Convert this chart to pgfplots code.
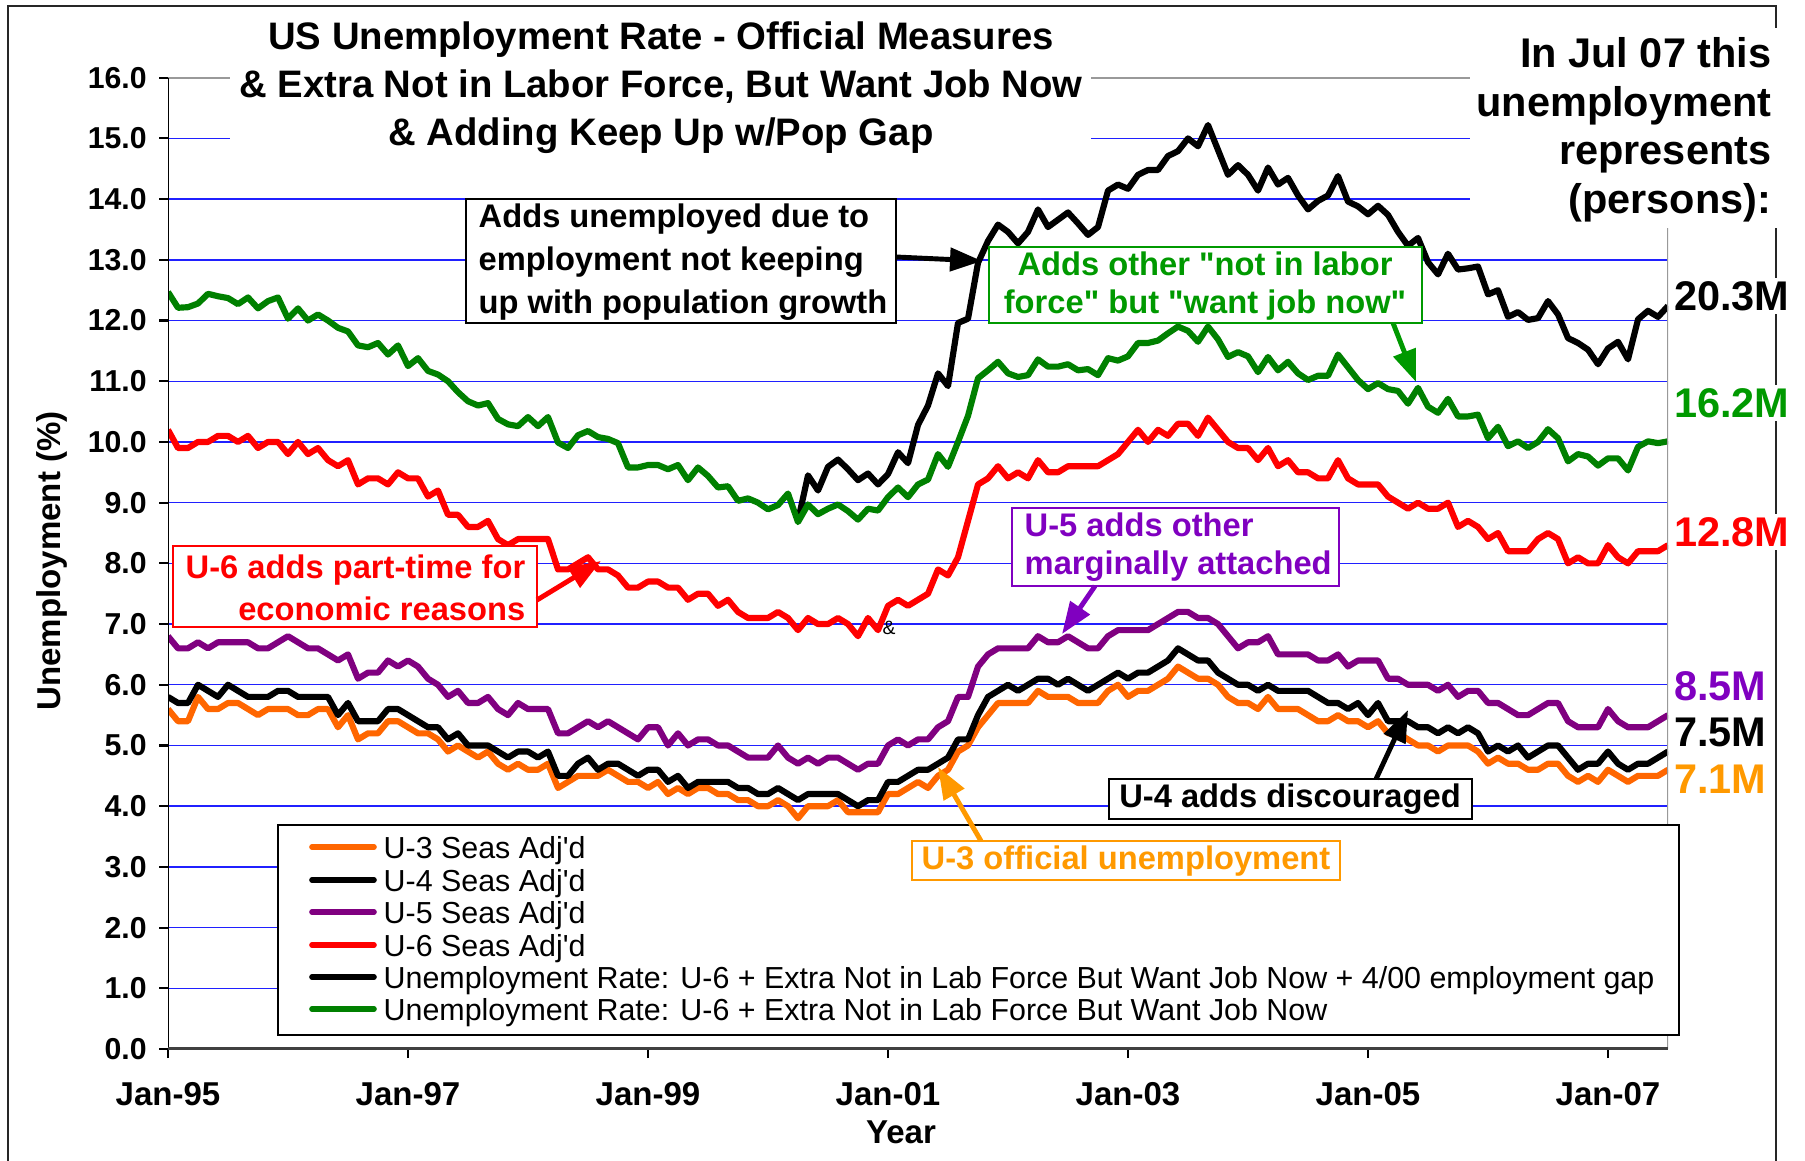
\documentclass[border=0pt]{standalone}
\usepackage{pgfplots}
\pgfplotsset{compat=1.18}
\usepackage{pgfplotstable}
\usepackage{fontspec}
\setmainfont{Liberation Sans}
\usetikzlibrary{arrows.meta}

\definecolor{uThree}{HTML}{FF6600}
\definecolor{uFive}{HTML}{800080}
\definecolor{nilfGreen}{HTML}{008000}
\definecolor{txtGreen}{HTML}{009900}
\definecolor{txtViolet}{HTML}{8000C0}
\definecolor{txtOrange}{HTML}{FF9900}
\definecolor{gridBlue}{HTML}{2020FF}

\newcommand{\fsz}[2]{\fontsize{#1}{#2}\selectfont}

% month index 0 = Jan-95 ... 150 = Jul-07
\pgfplotstableread{
m u3 u4 u5 u6 nilf gap
0 5.6 5.8 6.8 10.2 12.47 nan
1 5.4 5.7 6.6 9.9 12.21 nan
2 5.4 5.7 6.6 9.9 12.22 nan
3 5.8 6.0 6.7 10.0 12.28 nan
4 5.6 5.9 6.6 10.0 12.44 nan
5 5.6 5.8 6.7 10.1 12.40 nan
6 5.7 6.0 6.7 10.1 12.37 nan
7 5.7 5.9 6.7 10.0 12.27 nan
8 5.6 5.8 6.7 10.1 12.38 nan
9 5.5 5.8 6.6 9.9 12.20 nan
10 5.6 5.8 6.6 10.0 12.32 nan
11 5.6 5.9 6.7 10.0 12.38 nan
12 5.6 5.9 6.8 9.8 12.03 nan
13 5.5 5.8 6.7 10.0 12.20 nan
14 5.5 5.8 6.6 9.8 12.00 nan
15 5.6 5.8 6.6 9.9 12.10 nan
16 5.6 5.8 6.5 9.7 12.00 nan
17 5.3 5.5 6.4 9.6 11.88 nan
18 5.5 5.7 6.5 9.7 11.82 nan
19 5.1 5.4 6.1 9.3 11.59 nan
20 5.2 5.4 6.2 9.4 11.56 nan
21 5.2 5.4 6.2 9.4 11.63 nan
22 5.4 5.6 6.4 9.3 11.44 nan
23 5.4 5.6 6.3 9.5 11.59 nan
24 5.3 5.5 6.4 9.4 11.25 nan
25 5.2 5.4 6.3 9.4 11.38 nan
26 5.2 5.3 6.1 9.1 11.17 nan
27 5.1 5.3 6.0 9.2 11.11 nan
28 4.9 5.1 5.8 8.8 11.00 nan
29 5.0 5.2 5.9 8.8 10.82 nan
30 4.9 5.0 5.7 8.6 10.67 nan
31 4.8 5.0 5.7 8.6 10.60 nan
32 4.9 5.0 5.8 8.7 10.64 nan
33 4.7 4.9 5.6 8.4 10.38 nan
34 4.6 4.8 5.5 8.3 10.29 nan
35 4.7 4.9 5.7 8.4 10.26 nan
36 4.6 4.9 5.6 8.4 10.41 nan
37 4.6 4.8 5.6 8.4 10.26 nan
38 4.7 4.9 5.6 8.4 10.41 nan
39 4.3 4.5 5.2 7.9 9.99 nan
40 4.4 4.5 5.2 7.9 9.90 nan
41 4.5 4.7 5.3 8.0 10.11 nan
42 4.5 4.8 5.4 8.1 10.18 nan
43 4.5 4.6 5.3 7.9 10.08 nan
44 4.6 4.7 5.4 7.9 10.05 nan
45 4.5 4.7 5.3 7.8 9.98 nan
46 4.4 4.6 5.2 7.6 9.58 nan
47 4.4 4.5 5.1 7.6 9.58 nan
48 4.3 4.6 5.3 7.7 9.62 nan
49 4.4 4.6 5.3 7.7 9.62 nan
50 4.2 4.4 5.0 7.6 9.55 nan
51 4.3 4.5 5.2 7.6 9.62 nan
52 4.2 4.3 5.0 7.4 9.37 nan
53 4.3 4.4 5.1 7.5 9.58 nan
54 4.3 4.4 5.1 7.5 9.44 nan
55 4.2 4.4 5.0 7.3 9.25 nan
56 4.2 4.4 5.0 7.4 9.27 nan
57 4.1 4.3 4.9 7.2 9.03 nan
58 4.1 4.3 4.8 7.1 9.07 nan
59 4.0 4.2 4.8 7.1 9.00 nan
60 4.0 4.2 4.8 7.1 8.89 nan
61 4.1 4.3 5.0 7.2 8.96 nan
62 4.0 4.2 4.8 7.1 9.15 nan
63 3.8 4.1 4.7 6.9 8.68 8.70
64 4.0 4.2 4.8 7.1 8.97 9.45
65 4.0 4.2 4.7 7.0 8.81 9.20
66 4.0 4.2 4.8 7.0 8.90 9.59
67 4.1 4.2 4.8 7.1 8.97 9.71
68 3.9 4.1 4.7 7.0 8.86 9.55
69 3.9 4.0 4.6 6.8 8.72 9.37
70 3.9 4.1 4.7 7.1 8.90 9.48
71 3.9 4.1 4.7 6.9 8.87 9.30
72 4.2 4.4 5.0 7.3 9.09 9.47
73 4.2 4.4 5.1 7.4 9.25 9.83
74 4.3 4.5 5.0 7.3 9.09 9.65
75 4.4 4.6 5.1 7.4 9.30 10.28
76 4.3 4.6 5.1 7.5 9.38 10.60
77 4.5 4.7 5.3 7.9 9.80 11.13
78 4.6 4.8 5.4 7.8 9.59 10.92
79 4.9 5.1 5.8 8.1 10.00 11.96
80 5.0 5.1 5.8 8.7 10.43 12.03
81 5.3 5.5 6.3 9.3 11.05 12.95
82 5.5 5.8 6.5 9.4 11.18 13.31
83 5.7 5.9 6.6 9.6 11.32 13.58
84 5.7 6.0 6.6 9.4 11.13 13.46
85 5.7 5.9 6.6 9.5 11.07 13.27
86 5.7 6.0 6.6 9.4 11.10 13.46
87 5.9 6.1 6.8 9.7 11.36 13.83
88 5.8 6.1 6.7 9.5 11.24 13.54
89 5.8 6.0 6.7 9.5 11.24 13.66
90 5.8 6.1 6.8 9.6 11.28 13.78
91 5.7 6.0 6.7 9.6 11.18 13.60
92 5.7 5.9 6.6 9.6 11.20 13.41
93 5.7 6.0 6.6 9.6 11.10 13.54
94 5.9 6.1 6.8 9.7 11.38 14.14
95 6.0 6.2 6.9 9.8 11.34 14.24
96 5.8 6.1 6.9 10.0 11.41 14.17
97 5.9 6.2 6.9 10.2 11.63 14.40
98 5.9 6.2 6.9 10.0 11.63 14.48
99 6.0 6.3 7.0 10.2 11.67 14.48
100 6.1 6.4 7.1 10.1 11.79 14.71
101 6.3 6.6 7.2 10.3 11.90 14.79
102 6.2 6.5 7.2 10.3 11.83 15.00
103 6.1 6.4 7.1 10.1 11.65 14.87
104 6.1 6.4 7.1 10.4 11.90 15.22
105 6.0 6.2 7.0 10.2 11.69 14.81
106 5.8 6.1 6.8 10.0 11.40 14.40
107 5.7 6.0 6.6 9.9 11.48 14.56
108 5.7 6.0 6.7 9.9 11.41 14.40
109 5.6 5.9 6.7 9.7 11.15 14.14
110 5.8 6.0 6.8 9.9 11.40 14.52
111 5.6 5.9 6.5 9.6 11.18 14.24
112 5.6 5.9 6.5 9.7 11.32 14.35
113 5.6 5.9 6.5 9.5 11.13 14.06
114 5.5 5.9 6.5 9.5 11.02 13.83
115 5.4 5.8 6.4 9.4 11.09 13.97
116 5.4 5.7 6.4 9.4 11.09 14.06
117 5.5 5.7 6.5 9.7 11.44 14.38
118 5.4 5.6 6.3 9.4 11.23 13.96
119 5.4 5.7 6.4 9.3 11.02 13.88
120 5.3 5.5 6.4 9.3 10.87 13.75
121 5.4 5.7 6.4 9.3 10.97 13.89
122 5.2 5.4 6.1 9.1 10.87 13.74
123 5.2 5.4 6.1 9.0 10.84 13.46
124 5.1 5.4 6.0 8.9 10.63 13.23
125 5.0 5.3 6.0 9.0 10.89 13.36
126 5.0 5.3 6.0 8.9 10.58 12.96
127 4.9 5.2 5.9 8.9 10.48 12.76
128 5.0 5.3 6.0 9.0 10.71 13.10
129 5.0 5.2 5.8 8.6 10.42 12.84
130 5.0 5.3 5.9 8.7 10.42 12.86
131 4.9 5.2 5.9 8.6 10.45 12.89
132 4.7 4.9 5.7 8.4 10.06 12.43
133 4.8 5.0 5.7 8.5 10.25 12.50
134 4.7 4.9 5.6 8.2 9.93 12.06
135 4.7 5.0 5.5 8.2 10.01 12.14
136 4.6 4.8 5.5 8.2 9.90 12.01
137 4.6 4.9 5.6 8.4 10.00 12.04
138 4.7 5.0 5.7 8.5 10.21 12.32
139 4.7 5.0 5.7 8.4 10.06 12.10
140 4.5 4.8 5.4 8.0 9.68 11.71
141 4.4 4.6 5.3 8.1 9.80 11.63
142 4.5 4.7 5.3 8.0 9.76 11.52
143 4.4 4.7 5.3 8.0 9.61 11.28
144 4.6 4.9 5.6 8.3 9.73 11.54
145 4.5 4.7 5.4 8.1 9.73 11.65
146 4.4 4.6 5.3 8.0 9.53 11.36
147 4.5 4.7 5.3 8.2 9.92 12.02
148 4.5 4.7 5.3 8.2 10.01 12.16
149 4.5 4.8 5.4 8.2 9.98 12.06
150 4.6 4.9 5.5 8.3 10.01 12.24
}\unemp

\begin{document}
\begin{tikzpicture}
\path[use as bounding box] (0,0) rectangle (180.5mm,116mm);
\begin{axis}[
    at={(16.8mm,11.1mm)}, anchor=south west,
    scale only axis, width=150mm, height=97.13mm,
    xmin=0, xmax=150, ymin=0, ymax=16,
    axis line style={draw=none},
    ytick={0,1,...,16},
    yticklabels={0.0,1.0,2.0,3.0,4.0,5.0,6.0,7.0,8.0,9.0,10.0,11.0,12.0,13.0,14.0,15.0,16.0},
    xtick={0,24,48,72,96,120,144},
    xticklabels={Jan-95,Jan-97,Jan-99,Jan-01,Jan-03,Jan-05,Jan-07},
    tick align=outside, xtick pos=bottom, ytick pos=left,
    major tick length=0.9mm,
    tick style={black, line width=0.6pt},
    ymajorgrids,
    major grid style={color=gridBlue, line width=0.4pt},
    yticklabel style={font=\fsz{8.6}{9}\bfseries},
    xticklabel style={font=\fsz{9.4}{10}\bfseries, yshift=-1.2mm},
    every axis plot/.append style={line width=1.75pt, line join=round},
]
\addplot[uThree] table[x=m,y=u3]{\unemp};
\addplot[black] table[x=m,y=u4]{\unemp};
\addplot[uFive] table[x=m,y=u5]{\unemp};
\addplot[red] table[x=m,y=u6]{\unemp};
\addplot[black] table[x=m,y=gap]{\unemp};
\addplot[nilfGreen] table[x=m,y=nilf]{\unemp};
\draw[gray!80, line width=0.6pt] (rel axis cs:0,1) -- (rel axis cs:1,1) -- (rel axis cs:1,0);
\draw[black, line width=0.7pt] (rel axis cs:0,1) -- (rel axis cs:0,0);
\draw[black!75, line width=0.9pt] (rel axis cs:0,0) -- (rel axis cs:1,0);
\end{axis}

% overlay in pixel units of the 1805x1160 frame, y downwards
\begin{scope}[x=0.1mm, y=-0.1mm, shift={(0,116mm)}]
\draw[black!85, line width=0.6pt] (8,1165) -- (8,6) -- (1776,6) -- (1776,1165);

% title
\fill[white] (230,20) rectangle (1091,156);
\node[align=center, inner sep=0, font={\fsz{10.9}{13.7}\bfseries}] at (661,88)
  {US Unemployment Rate - Official Measures\\
   \& Extra Not in Labor Force, But Want Job Now\\
   \& Adding Keep Up w/Pop Gap};

% right note
\fill[white] (1470,28) rectangle (1790,228);
\node[anchor=east, align=right, inner sep=0, font={\fsz{11.8}{13.8}\bfseries}] at (1772,130)
  {In Jul 07 this\\unemployment\\represents\\(persons):};

% end labels
\begin{scope}[every node/.style={anchor=west, fill=white, inner sep=1pt, font={\fsz{11.8}{12}\bfseries}}]
\node at (1670,296) {20.3M};
\node[text=txtGreen] at (1670,403) {16.2M};
\node[text=red] at (1670,532) {12.8M};
\node[text=txtViolet] at (1670,686) {8.5M};
\node at (1670,732) {7.5M};
\node[text=txtOrange] at (1670,779) {7.1M};
\end{scope}

% axis titles
\node[rotate=90, font={\fsz{9.4}{10}\bfseries}] at (52,561) {Unemployment (\%)};
\node[font={\fsz{9.4}{10}\bfseries}] at (901,1132) {Year};

% legend
\draw[black, line width=0.5pt, fill=white] (278,825) rectangle (1679,1035);
\foreach \yy/\cc/\tt in {
  847/uThree/{U-3 Seas Adj\textquotesingle d},
  880/black/{U-4 Seas Adj\textquotesingle d},
  912/uFive/{U-5 Seas Adj\textquotesingle d},
  945/red/{U-6 Seas Adj\textquotesingle d},
  977/black/{Unemployment Rate: U-6 + Extra Not in Lab Force But Want Job Now + 4/00 employment gap},
  1009/nilfGreen/{Unemployment Rate: U-6 + Extra Not in Lab Force But Want Job Now}}{
  \draw[\cc, line width=1.6pt, line cap=round] (312,\yy) -- (374,\yy);
  \node[anchor=base west, inner sep=0, font={\fsz{8.65}{10}}] at (383,\yy+11) {\tt};
}

% annotation boxes
\draw[black, line width=0.7pt, fill=white] (466,199) rectangle (896,323);
\node[anchor=west, align=left, inner sep=0, font={\fsz{9.3}{12.2}\bfseries}] at (478,262)
  {Adds unemployed due to\\employment not keeping\\up with population growth};
\draw[txtGreen, line width=0.7pt, fill=white] (989,247) rectangle (1422,323);
\node[align=center, inner sep=0, text=txtGreen, font={\fsz{9.3}{10.6}\bfseries}] at (1205,286)
  {Adds other \textquotedbl not in labor\\ force\textquotedbl{} but \textquotedbl want job now\textquotedbl};
\draw[red, line width=0.7pt, fill=white] (173,546) rectangle (537,627);
\node[anchor=east, align=right, inner sep=0, text=red, font={\fsz{9.3}{12}\bfseries}] at (526,588)
  {U-6 adds part-time for\\economic reasons};
\draw[txtViolet, line width=0.7pt, fill=white] (1012,508) rectangle (1339,586);
\node[anchor=west, align=left, inner sep=0, text=txtViolet, font={\fsz{9.3}{10.6}\bfseries}] at (1024,547)
  {U-5 adds other\\marginally attached};
\draw[black, line width=0.8pt, fill=white] (1109,779) rectangle (1472,819);
\node[font={\fsz{9.3}{11}\bfseries}] at (1290,799) {U-4 adds discouraged};
\draw[txtOrange, line width=0.8pt, fill=white] (912,841) rectangle (1340,880);
\node[text=txtOrange, font={\fsz{9.3}{11}\bfseries}] at (1126,861) {U-3 official unemployment};

% arrows
\begin{scope}[line width=1.4pt, -{Triangle[length=3.2mm,width=2.3mm]}]
\draw[black] (896,257) -- (982,261);
\draw[txtGreen] (1393,323) -- (1416,382);
\draw[red] (537,600) -- (601,561);
\draw[txtViolet] (1095,586) -- (1062,634);
\draw[black] (1376,779) -- (1408,710);
\draw[txtOrange] (981,841) -- (938,767);
\end{scope}
\node[font={\fsz{5.5}{6}}] at (889,628) {\&};
\end{scope}
\end{tikzpicture}
\end{document}
